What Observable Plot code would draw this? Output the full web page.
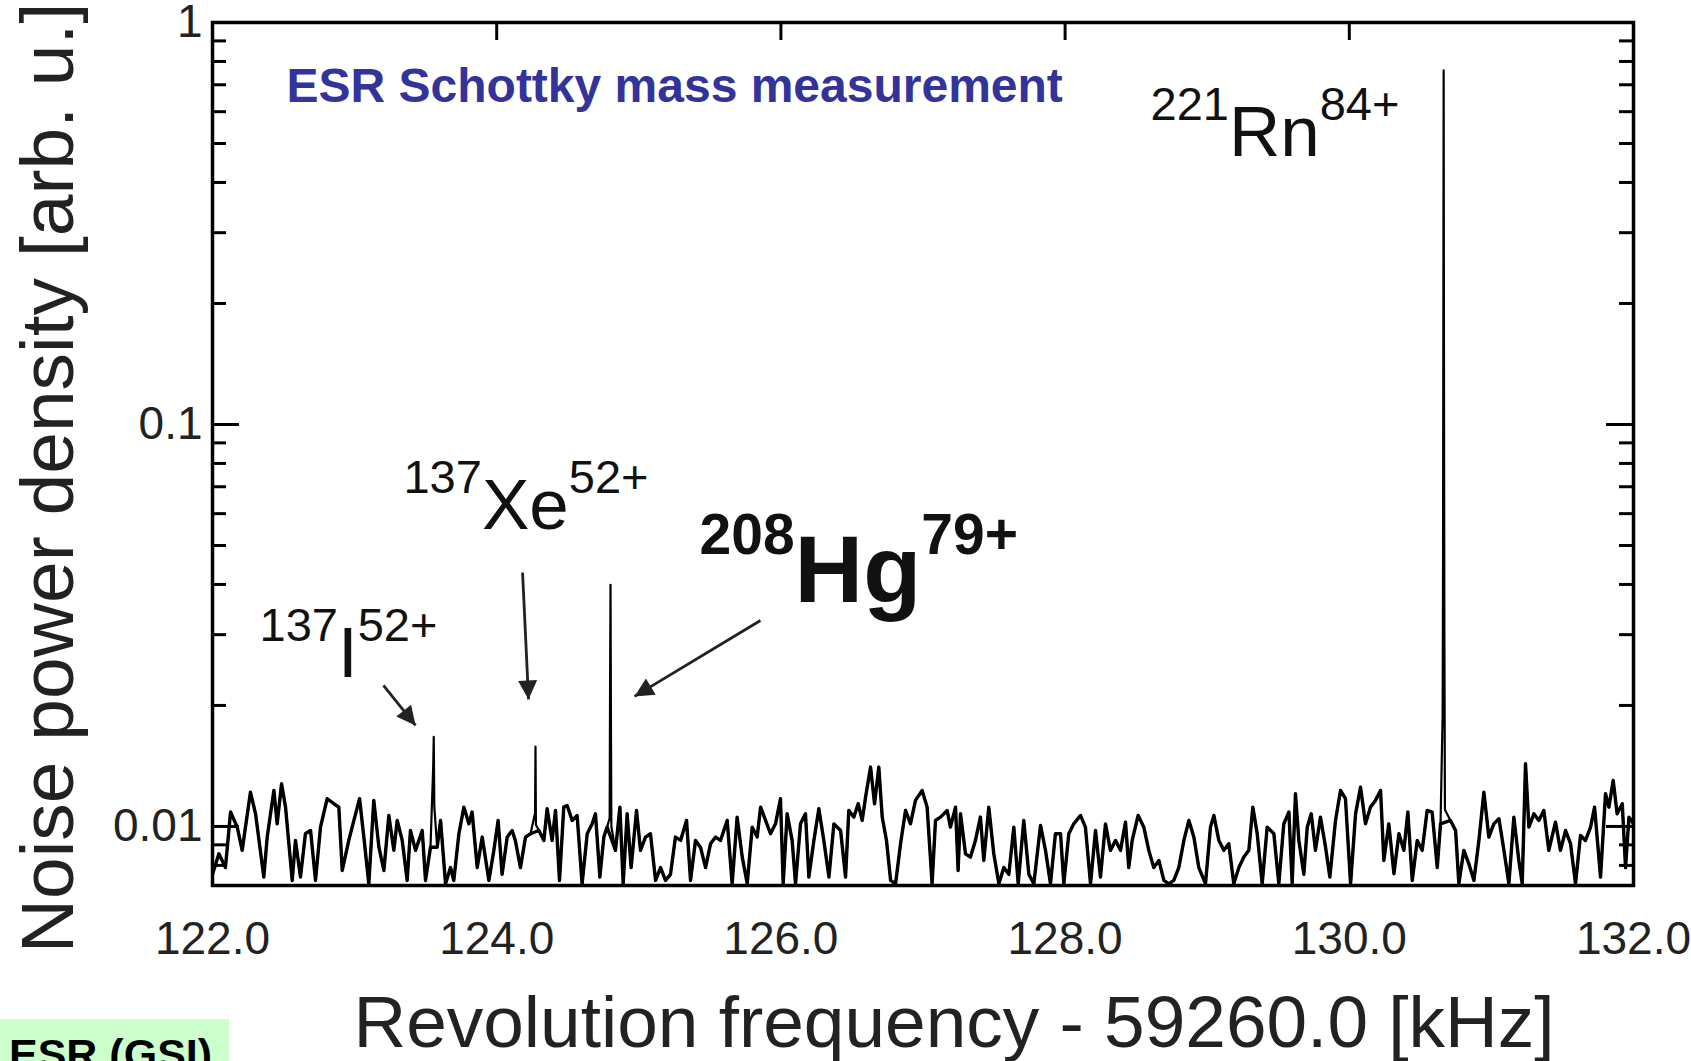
<!DOCTYPE html>
<html>
<head>
<meta charset="utf-8">
<script src="https://cdn.jsdelivr.net/npm/d3@7"></script>
<script src="https://cdn.jsdelivr.net/npm/@observablehq/plot@0.6"></script>
<style>
  html, body { margin: 0; padding: 0; background: #fff; }
  #wrap { position: relative; width: 1691px; height: 1061px; overflow: hidden; font-family: "Liberation Sans", Arial, sans-serif; }
  #badge { position: absolute; left: 0; top: 1019px; width: 229px; height: 42px; background: #ccffcc; overflow: hidden; }
  #badge span { position: absolute; left: 9px; top: 14px; font-weight: bold; font-size: 43px; line-height: 1; color: #000; white-space: nowrap; }
</style>
</head>
<body>
<div id="wrap"><div id="chart"></div><div id="badge"><span>ESR (GSI)</span></div></div>
<script>
// ---------------- DATA ----------------
const titleText = "ESR Schottky mass measurement";
const xTitle = "Revolution frequency - 59260.0 [kHz]";
const yTitle = "Noise power density [arb. u.]";

const xTicks = [122, 124, 126, 128, 130, 132];
const xTopTicks = [124, 126, 128, 130];
const yTicks = [1, 0.1, 0.01];
const yMajorInner = [0.1, 0.01];
const yMinor = [0.9, 0.8, 0.7, 0.6, 0.5, 0.4, 0.3, 0.2, 0.09, 0.08, 0.07, 0.06, 0.05, 0.04, 0.03, 0.02, 0.009, 0.008];

// background noise of the spectrum: [frequency - 59260 kHz, noise power density]
const noise = [
  [122.000,0.0076],[122.045,0.00855],[122.091,0.0079],[122.127,0.01086],[122.174,0.00996],[122.209,0.00872],
  [122.267,0.01217],[122.303,0.01075],[122.361,0.00748],[122.385,0.00941],[122.432,0.01229],[122.455,0.01015],
  [122.486,0.01277],[122.514,0.01117],[122.561,0.00734],[122.584,0.00923],[122.619,0.00748],[122.654,0.00959],
  [122.690,0.00977],[122.725,0.00734],[122.760,0.00996],[122.807,0.01172],[122.854,0.01139],[122.889,0.01117],
  [122.913,0.00777],[122.959,0.00923],[122.995,0.01035],[123.035,0.01172],[123.065,0.00941],[123.100,0.0072],
  [123.135,0.01161],[123.171,0.00888],[123.206,0.00777],[123.241,0.01065],[123.276,0.00872],[123.300,0.01035],
  [123.335,0.00923],[123.370,0.00734],[123.393,0.00977],[123.429,0.00872],[123.476,0.00977],[123.499,0.00734],
  [123.534,0.00888],[123.581,0.00888],[123.605,0.01035],[123.640,0.0072],[123.675,0.0079],[123.698,0.00734],
  [123.734,0.00959],[123.769,0.01117],[123.804,0.01015],[123.827,0.01086],[123.863,0.0079],[123.898,0.00941],
  [123.945,0.00734],[123.980,0.00872],[124.010,0.01035],[124.038,0.0076],[124.074,0.00941],[124.109,0.00977],
  [124.132,0.0092],[124.167,0.0079],[124.203,0.00941],[124.238,0.00959],[124.297,0.00977],[124.332,0.00923],
  [124.355,0.01107],[124.390,0.00923],[124.414,0.01096],[124.442,0.00734],[124.472,0.01117],
  [124.496,0.01128],[124.531,0.01035],[124.566,0.01065],[124.601,0.0072],[124.637,0.00959],[124.672,0.01015],
  [124.695,0.01075],[124.726,0.00748],[124.754,0.00941],[124.777,0.00996],[124.836,0.00872],[124.867,0.01117],
  [124.890,0.0072],[124.918,0.01075],[124.946,0.0079],[124.984,0.01096],[125.012,0.00872],[125.047,0.00941],
  [125.082,0.00959],[125.118,0.00734],[125.153,0.0079],[125.188,0.00734],[125.223,0.0076],[125.258,0.00941],
  [125.294,0.00923],[125.336,0.01035],[125.364,0.00734],[125.399,0.00923],[125.434,0.00888],[125.470,0.0079],
  [125.505,0.00906],[125.540,0.00941],[125.575,0.00923],[125.622,0.01035],[125.657,0.0072],[125.692,0.01055],
  [125.728,0.00839],[125.763,0.0072],[125.798,0.00996],[125.833,0.00941],[125.857,0.01117],[125.892,0.01035],
  [125.927,0.00959],[125.962,0.01015],[125.997,0.01172],[126.016,0.0072],[126.044,0.01075],[126.079,0.00923],
  [126.103,0.0072],[126.138,0.01015],[126.173,0.01075],[126.197,0.00748],[126.232,0.00923],[126.267,0.01107],
  [126.302,0.00923],[126.338,0.00748],[126.373,0.01015],[126.420,0.00977],[126.455,0.00748],[126.478,0.01096],
  [126.513,0.01055],[126.544,0.01139],[126.572,0.01035],[126.596,0.01183],[126.631,0.01405],[126.659,0.01139],
  [126.689,0.01405],[126.713,0.01055],[126.743,0.00923],[126.772,0.00734],[126.807,0.0072],[126.842,0.00906],
  [126.877,0.01096],[126.912,0.01015],[126.947,0.01161],
  [126.994,0.01229],[127.029,0.01117],[127.064,0.0072],[127.088,0.01035],[127.123,0.01055],[127.170,0.01096],
  [127.193,0.00996],[127.229,0.01117],[127.247,0.00777],[127.264,0.01075],[127.299,0.00855],[127.334,0.00839],
  [127.369,0.00923],[127.404,0.01055],[127.428,0.00823],[127.463,0.01117],[127.498,0.00855],[127.534,0.0072],
  [127.569,0.0079],[127.604,0.0076],[127.639,0.00996],[127.670,0.0072],[127.709,0.01035],[127.745,0.0076],
  [127.780,0.0072],[127.827,0.01006],[127.862,0.00872],[127.897,0.0072],[127.932,0.00959],[127.968,0.00959],
  [127.991,0.0072],[128.026,0.00959],[128.061,0.01015],[128.108,0.01065],[128.143,0.00996],[128.179,0.0072],
  [128.214,0.00977],[128.249,0.00748],[128.284,0.01015],[128.319,0.00872],[128.355,0.00923],[128.390,0.00872],
  [128.425,0.01025],[128.448,0.0079],[128.472,0.00923],[128.514,0.01065],[128.554,0.00996],[128.589,0.00872],
  [128.624,0.0079],[128.660,0.00823],[128.695,0.00734],[128.730,0.0072],[128.765,0.00734],[128.800,0.0079],
  [128.836,0.00923],[128.871,0.01035],[128.906,0.00941],[128.941,0.0079],[128.988,0.0072],[129.023,0.00996],
  [129.047,0.01065],[129.082,0.00923],[129.117,0.00872],[129.152,0.00906],[129.187,0.0072],[129.223,0.0079],
  [129.258,0.00839],[129.293,0.00872],[129.321,0.01117],[129.352,0.00959],[129.387,0.0072],[129.422,0.00996],
  [129.469,0.00959],
  [129.504,0.0072],[129.539,0.01015],[129.575,0.01086],[129.598,0.0072],[129.621,0.01206],[129.645,0.00923],
  [129.680,0.0076],[129.704,0.00996],[129.732,0.01075],[129.762,0.00872],[129.797,0.01055],[129.833,0.00888],
  [129.863,0.00748],[129.903,0.01035],[129.938,0.01229],[129.973,0.01172],[130.009,0.0072],[130.044,0.01075],
  [130.079,0.01252],[130.114,0.01015],[130.149,0.01117],[130.184,0.01161],[130.220,0.01229],[130.243,0.00823],
  [130.278,0.01015],[130.314,0.00763],[130.349,0.00959],[130.384,0.00872],[130.412,0.01086],[130.443,0.00734],
  [130.478,0.00923],[130.513,0.00872],[130.548,0.01096],[130.583,0.01086],[130.619,0.0079],[130.642,0.01015],
  [130.712,0.01035],[130.748,0.00977],[130.771,0.0072],[130.806,0.00872],[130.841,0.00808],[130.877,0.00734],
  [130.912,0.00923],[130.947,0.01217],[130.982,0.00941],[131.017,0.01015],[131.053,0.01045],[131.088,0.00872],
  [131.123,0.0072],[131.158,0.01055],[131.193,0.00823],[131.217,0.0072],[131.240,0.01432],[131.264,0.00996],
  [131.299,0.01075],[131.334,0.01035],[131.369,0.01096],[131.404,0.00872],[131.451,0.01025],[131.486,0.00872],
  [131.522,0.00977],[131.557,0.00906],[131.592,0.0072],[131.627,0.0095],[131.662,0.00923],[131.698,0.00996],
  [131.726,0.01117],[131.768,0.00748],[131.803,0.01206],[131.827,0.01117],[131.857,0.01301],[131.885,0.01075],
  [131.921,0.01139],[131.944,0.0079],[131.968,0.01055],[132.000,0.01015]
];

// ion peaks: [frequency - 59260 kHz, noise power density]
const peaks = [
  [123.553,0.0140],[123.557,0.0167],[123.561,0.0112],                                   // 137I 52+
  [124.270,0.0108],[124.273,0.0158],[124.276,0.0101],                                   // 137Xe 52+
  [124.795,0.0105],[124.798,0.0232],[124.801,0.0399],[124.804,0.0180],[124.807,0.0100], // 208Hg 79+
  [130.657,0.0191],[130.660,0.0486],[130.663,0.389],[130.664,0.760],[130.666,0.181],
  [130.669,0.0307],[130.673,0.0110]                                                     // 221Rn 84+
];

// ion labels
const ionMass = ["137", "137", "208", "221"];
const ionSymbol = ["I", "Xe", "Hg", "Rn"];
const ionCharge = ["52+", "52+", "79+", "84+"];
const ionFreq = [122.331, 123.344, 125.427, 128.601];
const ionValue = [0.02348, 0.0551, 0.03608, 0.4642];

// arrows pointing at the peaks
const arrowFromFreq = [123.203, 124.182, 125.856];
const arrowFromValue = [0.02243, 0.04283, 0.03253];
const arrowToFreq = [123.429, 124.224, 124.970];
const arrowToValue = [0.01783, 0.0207, 0.02106];

// ---------------- STYLE / LAYOUT ----------------
const FONT = "'Liberation Sans', Arial, Helvetica, sans-serif";
const W = 1691, H = 1061;
const M = {top: 22, right: 58, bottom: 176, left: 212};
const plotW = W - M.left - M.right;
const plotH = H - M.top - M.bottom;
const emphasizedIon = "Hg";

const toRows = arr => arr.map(([f, v]) => ({f, v}));
const spectrum = toRows([...noise, ...peaks]).sort((a, b) => a.f - b.f);
const noiseRows = toRows(noise);
const ions = ionSymbol.map((s, i) => ({symbol: s, f: ionFreq[i], v: ionValue[i]}));
const arrows = arrowFromFreq.map((f, i) => ({f1: f, v1: arrowFromValue[i], f2: arrowToFreq[i], v2: arrowToValue[i]}));

const chart = Plot.plot({
  width: W, height: H,
  marginTop: M.top, marginRight: M.right, marginBottom: M.bottom, marginLeft: M.left,
  style: {fontFamily: FONT, background: "#fff", overflow: "visible"},
  x: {domain: [122, 132]},
  y: {type: "log", domain: [0.00713, 1]},
  marks: [
    // heavy trace for the dense noise band, thin trace for the full spectrum incl. sharp peaks
    Plot.line(noiseRows, {x: "f", y: "v", stroke: "#000", strokeWidth: 3.4, clip: true}),
    Plot.line(spectrum, {x: "f", y: "v", stroke: "#000", strokeWidth: 2.2, clip: true}),
    Plot.tickX(xTopTicks, {x: d => d, stroke: "#000", strokeWidth: 3, insetBottom: plotH - 18}),
    Plot.tickY(yMajorInner, {y: d => d, stroke: "#000", strokeWidth: 3, insetRight: plotW - 27}),
    Plot.tickY(yMajorInner, {y: d => d, stroke: "#000", strokeWidth: 3, insetLeft: plotW - 27}),
    Plot.tickY(yMinor, {y: d => d, stroke: "#000", strokeWidth: 3, insetRight: plotW - 14}),
    Plot.tickY(yMinor, {y: d => d, stroke: "#000", strokeWidth: 3, insetLeft: plotW - 14}),
    Plot.frame({stroke: "#000", strokeWidth: 3.5}),
    Plot.axisX({anchor: "bottom", ticks: xTicks, tickFormat: d => d.toFixed(1), tickSize: 0, tickPadding: 36, fontSize: 46, fill: "#222", label: null}),
    Plot.axisY({anchor: "left", ticks: yTicks, tickFormat: d => String(d), tickSize: 0, tickPadding: 10, fontSize: 46, fill: "#222", label: null}),
    Plot.text([yTitle], {text: d => d, frameAnchor: "left", textAnchor: "middle", rotate: -90, dx: -164, dy: 24, fontSize: 75, fill: "#222"}),
    Plot.text([xTitle], {text: d => d, frameAnchor: "bottom", textAnchor: "middle", lineAnchor: "top", dx: 31, dy: 110, fontSize: 73, fill: "#222"}),
    Plot.text([titleText], {text: d => d, frameAnchor: "top-left", textAnchor: "start", lineAnchor: "top", dx: 74, dy: 45, fontSize: 48, fontWeight: "bold", fill: "#333399"}),
    Plot.link(arrows, {x1: "f1", y1: "v1", x2: "f2", y2: "v2", stroke: "#222", strokeWidth: 2.8, ariaDescription: "arrows"}),
    Plot.text(ions, {x: "f", y: "v", text: "symbol", textAnchor: "start", lineAnchor: "bottom", fill: "#111", ariaDescription: "ion labels"})
  ]
});

document.getElementById("chart").appendChild(chart);

// filled arrow heads
const svg = d3.select(chart.tagName.toLowerCase() === "svg" ? chart : chart.querySelector("svg"));
const defs = svg.append("defs");
defs.append("marker")
  .attr("id", "arrowhead")
  .attr("viewBox", "0 0 10 10")
  .attr("refX", 10).attr("refY", 5)
  .attr("markerUnits", "userSpaceOnUse")
  .attr("markerWidth", 28).attr("markerHeight", 19)
  .attr("orient", "auto")
  .append("path").attr("d", "M0,0L10,5L0,10Z").attr("fill", "#222");
svg.selectAll('g[aria-description="arrows"] path, g[aria-description="arrows"] line').attr("marker-end", "url(#arrowhead)");

// isotope labels with superscripts
svg.selectAll('g[aria-description="ion labels"] text').each(function (_, i) {
  const t = d3.select(this);
  const bold = ionSymbol[i] === emphasizedIon;
  const main = bold ? 95 : 71, sup = bold ? 57 : 47, raise = Math.round(main * 0.51);
  t.attr("y", null).attr("dy", null).attr("font-weight", bold ? "bold" : null).text(null);
  t.append("tspan").attr("font-size", sup).attr("dy", -raise).text(ionMass[i]);
  t.append("tspan").attr("font-size", main).attr("dy", raise).text(ionSymbol[i]);
  t.append("tspan").attr("font-size", sup).attr("dy", -raise).text(ionCharge[i]);
});
</script>
</body>
</html>
